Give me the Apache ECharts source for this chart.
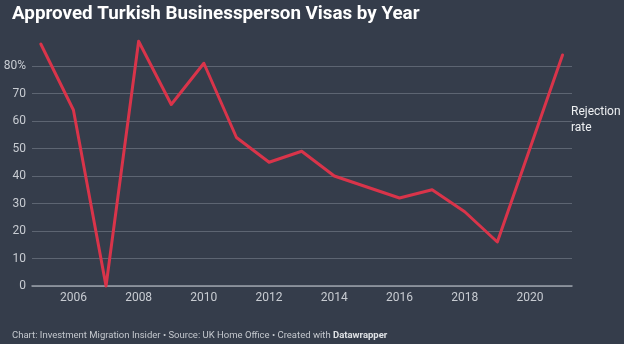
<!DOCTYPE html>
<html><head><meta charset="utf-8">
<script src="https://cdn.jsdelivr.net/npm/echarts@6/dist/echarts.min.js"></script>
<style>html,body{margin:0;padding:0;background:#353d4b;}#c{width:624px;height:344px;}</style>
</head><body><div id="c"></div>
<script>
const years = [2005,2006,2007,2008,2009,2010,2011,2012,2013,2014,2015,2016,2017,2018,2019,2020,2021];
const rejectionRate = [88,64,0,89,66,81,54,45,49,40,36,32,35,27,16,50,84];
const xTickLabels = [2006,2008,2010,2012,2014,2016,2018,2020];
const titleText = 'Approved Turkish Businessperson Visas by Year';
const seriesLabel = ['Rejection', 'rate'];

const chart = echarts.init(document.getElementById('c'), null, {renderer:'canvas'});
chart.setOption({
  backgroundColor:'#353d4b',
  animation:false,
  title:[{
    text:titleText, left:7, top:0,
    textStyle:{color:'#ffffff', fontFamily:'Roboto', fontWeight:'bold', fontSize:18.8}
  },{
    text:'{n|Chart: Investment Migration Insider • Source: UK Home Office • Created with }{b|Datawrapper}',
    left:7, top:326,
    textStyle:{fontWeight:'normal', rich:{
      n:{color:'#c4c8ce', fontFamily:'Roboto', fontSize:9.5, fontWeight:'normal'},
      b:{color:'#dfe2e6', fontFamily:'Roboto', fontSize:9.5, fontWeight:'bold'}
    }}
  }],
  graphic:[{
    type:'text', left:571, top:104,
    style:{text:seriesLabel.join('\n'), fill:'#eef0f2', font:'12px Roboto', lineHeight:16}
  }],
  grid:{left:32, right:52, top:66, bottom:58},
  xAxis:{
    type:'value', min:2004.73, max:2021.29,
    axisLine:{show:true, lineStyle:{color:'#9ba1aa', width:1.5}},
    axisTick:{show:false},
    splitLine:{show:false},
    axisLabel:{customValues:xTickLabels, color:'#c8ccd2', fontFamily:'Roboto', fontSize:12, margin:6,
      formatter:v=>String(v)}
  },
  yAxis:{
    type:'value', min:0, max:80, interval:10,
    axisLine:{show:false}, axisTick:{show:false},
    splitLine:{lineStyle:{color:'#5d6572', width:1}},
    axisLabel:{color:'#c8ccd2', fontFamily:'Roboto', fontSize:12, margin:6,
      formatter:v=> v===80 ? '80%' : String(v)}
  },
  series:[{
    type:'line', clip:false, symbol:'none',
    data:years.map((y,i)=>[y, rejectionRate[i]]),
    lineStyle:{color:'#d9344a', width:3, join:'round', cap:'round'}
  }]
});
</script></body></html>
